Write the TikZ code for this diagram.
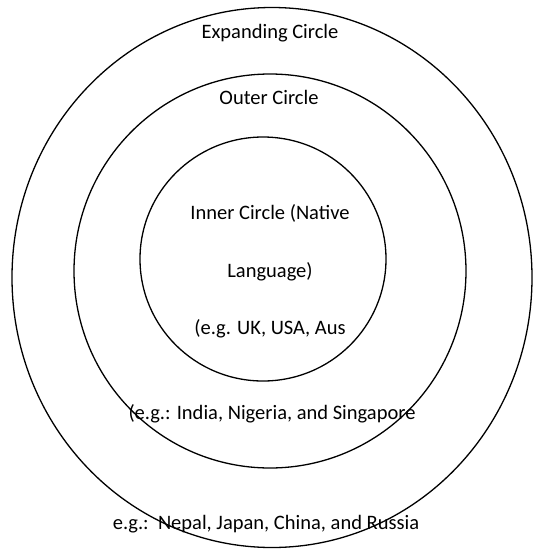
\documentclass[tikz,border=0pt]{standalone}
\usepackage{fontspec}
\setmainfont{Carlito}
\usepackage{tikz}
\begin{document}
\begin{tikzpicture}[x=1pt, y=-1pt,
  ring/.style={draw=black, line width=1.3pt},
  ringlabel/.style={font=\fontsize{20.5}{24}\selectfont, text=black, anchor=base, inner sep=0pt}]
\useasboundingbox (0,0) rectangle (541,550);
\clip (0,0) rectangle (541,550);

% the three rings: centre x / centre y / x radius / y radius
\foreach \cx/\cy/\rx/\ry in {272/277.5/260/270, 270/271/196/197, 263/259/123/122}{
  \draw[ring] (\cx,\cy) ellipse[x radius=\rx, y radius=\ry];
}

% expanding circle
\node[ringlabel] (expanding) at (270,38.5) {Expanding Circle};
\node[ringlabel] (expandingeg) at (266,529.5) {e.g.:\ \ Nepal, Japan, China, and Russia};
% outer circle
\node[ringlabel] (outer) at (269,104.5) {Outer Circle};
\node[ringlabel] (outereg) at (272,419.5) {(e.g.: India, Nigeria, and Singapore};
% inner circle
\node[ringlabel] (inner) at (270,219.5) {Inner Circle (Native};
\node[ringlabel] (innerlang) at (270,277.5) {Language)};
\node[ringlabel] (innereg) at (270,334.5) {(e.g. UK, USA, Aus};
\end{tikzpicture}
\end{document}
